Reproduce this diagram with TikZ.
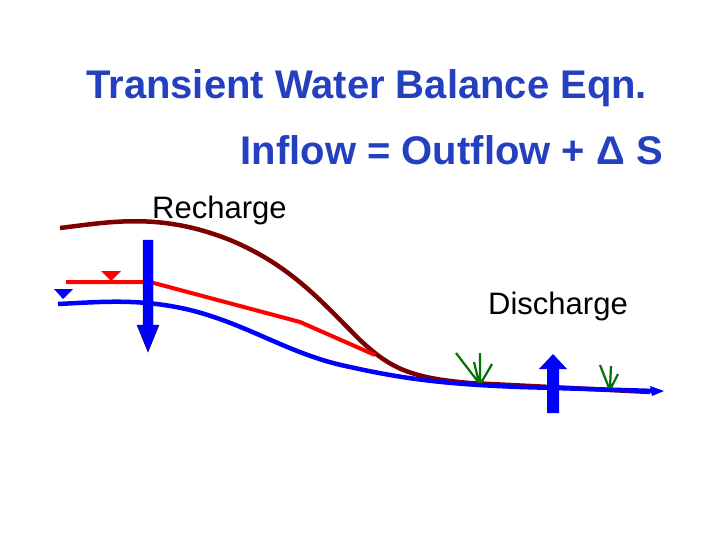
\documentclass[tikz,border=0pt]{standalone}
\usepackage{fontspec}
\setmainfont{Liberation Sans}
\begin{document}
\begin{tikzpicture}[x=1pt,y=-1pt,
  title/.style={text=tblue,font=\bfseries\fontsize{40}{46}\selectfont,inner sep=0},
  lbl/.style={font=\fontsize{31}{36}\selectfont,inner sep=0},
  grass/.style={draw=green!45!black,line width=2.2pt},
  tri/.style={line width=0pt}]
\definecolor{tblue}{RGB}{36,64,190}
\definecolor{dred}{RGB}{125,0,0}
\useasboundingbox (0,0) rectangle (720,540);
\node[title,anchor=west] (t1) at (86,88) {Transient Water Balance Eqn.};
\node[title,anchor=east] (t2) at (663,150) {Inflow = Outflow + Δ S};
\node[lbl,anchor=west] (rc) at (152,210) {Recharge};
\node[lbl,anchor=west] (dc) at (488,306) {Discharge};
% dark red
\draw[dred,line width=4.5pt] (60,228) .. controls (110,222) and (160,212) .. (230,240)
  .. controls (290,265) and (320,300) .. (360,340) .. controls (390,368) and (410,378) .. (470,383) -- (650,392);
% red
\draw[red,line width=4pt] (66,282) -- (150,282) -- (300,322) -- (375,355);
% blue
\draw[blue,line width=4.5pt] (58,304) .. controls (100,302) and (140,298) .. (190,310)
  .. controls (250,325) and (290,355) .. (350,367) .. controls (400,378) and (440,384) .. (520,387) -- (655,391);
\fill[blue] (664,391) -- (650,386) -- (652,396) -- cycle;
% triangles
\fill[red] (101,271) -- (121,271) -- (111,281) -- cycle;
\fill[blue] (54,289) -- (73,289) -- (63,299) -- cycle;
% down arrow
\fill[blue,draw=black!70!blue,line width=0.4pt] (143,240) -- (153,240) -- (153,325) -- (159,325) -- (148,352) -- (137,325) -- (143,325) -- cycle;
% up arrow
\fill[blue] (547,413) -- (559,413) -- (559,369) -- (567,369) -- (553,354) -- (539,369) -- (547,369) -- cycle;
% grass
\draw[grass] (456,353) -- (479,383) (480,353) -- (480,383) (492,364) -- (481,383) (474,362)--(479,383);
\draw[grass] (600,365) -- (609,388) (611,366) -- (610,388) (618,374) -- (611,388);
\end{tikzpicture}
\end{document}
